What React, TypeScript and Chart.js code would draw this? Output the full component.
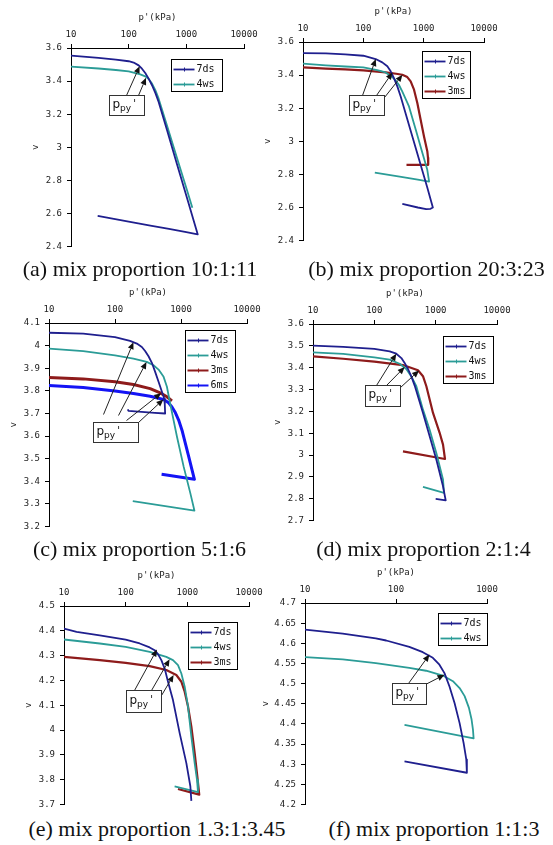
import React, { useEffect, useRef } from 'react';
import { Chart, registerables } from 'chart.js';

Chart.register(...registerables);

type Pt = [number, number]; // [p' (kPa), v]

// ---------- (a) mix proportion 10:1:11 ----------
const A_7DS: Pt[] = [
  [10, 3.554], [30, 3.54], [60, 3.53], [100, 3.52], [122, 3.512], [149, 3.495], [170, 3.475],
  [194, 3.449], [222, 3.415], [254, 3.375], [290, 3.329], [331, 3.274], [462, 3.104], [689, 2.898],
  [1028, 2.693], [1574, 2.474],
  [1000, 2.487], [500, 2.507], [238, 2.527], [100, 2.551], [29, 2.585],
];
const A_4WS: Pt[] = [
  [10, 3.487], [30, 3.476], [60, 3.467], [100, 3.459], [159, 3.441], [194, 3.429], [222, 3.413],
  [254, 3.385], [290, 3.345], [331, 3.294], [462, 3.132], [689, 2.935], [1028, 2.74], [1271, 2.635],
];

// ---------- (b) mix proportion 20:3:23 ----------
const B_7DS: Pt[] = [
  [10, 3.533], [24, 3.531], [50, 3.525], [100, 3.517], [160, 3.497], [206, 3.477], [250, 3.453],
  [284, 3.423], [322, 3.382], [366, 3.332], [416, 3.271], [571, 3.099], [837, 2.892], [1151, 2.72],
  [1420, 2.6], [1300, 2.592], [1100, 2.59], [800, 2.6], [443, 2.622],
];
const B_4WS: Pt[] = [
  [10, 3.469], [24, 3.459], [50, 3.452], [100, 3.447], [170, 3.43], [234, 3.416], [302, 3.388],
  [350, 3.365], [390, 3.34], [443, 3.3], [571, 3.211], [740, 3.07], [956, 2.928], [1148, 2.828],
  [1231, 2.757], [800, 2.768], [400, 2.786], [155, 2.811],
];
const B_3MS: Pt[] = [
  [10, 3.447], [24, 3.439], [50, 3.434], [100, 3.429], [234, 3.416], [350, 3.408], [443, 3.402],
  [535, 3.388], [609, 3.362], [692, 3.312], [785, 3.231], [891, 3.13], [1013, 3.029], [1151, 2.938],
  [1180, 2.9], [1190, 2.858], [519, 2.858],
];

// ---------- (c) mix proportion 5:1:6 ----------
const C_7DS: Pt[] = [
  [10, 4.057], [33, 4.053], [100, 4.038], [169, 4.021], [214, 4.009], [255, 3.994], [286, 3.976],
  [322, 3.953], [362, 3.924], [406, 3.884], [457, 3.84], [514, 3.796], [557, 3.766], [568, 3.74],
  [575, 3.7], [400, 3.703], [160, 3.712], [156, 3.718],
];
const C_4WS: Pt[] = [
  [10, 3.987], [33, 3.976], [100, 3.957], [190, 3.943], [303, 3.928], [383, 3.913], [457, 3.894],
  [545, 3.862], [612, 3.818], [689, 3.74], [869, 3.597], [1097, 3.465], [1387, 3.347],
  [1596, 3.271], [186, 3.313],
];
const C_3MS: Pt[] = [
  [10, 3.859], [33, 3.853], [100, 3.84], [190, 3.828], [341, 3.81], [484, 3.791], [612, 3.774], [729, 3.756],
];
const C_6MS: Pt[] = [
  [10, 3.824], [33, 3.815], [100, 3.799], [190, 3.788], [341, 3.776], [545, 3.762], [649, 3.747],
  [729, 3.729], [820, 3.704], [921, 3.671], [1035, 3.626], [1164, 3.568], [1309, 3.509],
  [1472, 3.45], [1596, 3.409], [508, 3.431],
];

// ---------- (d) mix proportion 2:1:4 ----------
const D_7DS: Pt[] = [
  [10, 3.501], [31, 3.495], [100, 3.486], [178, 3.475], [228, 3.464], [276, 3.444], [312, 3.422],
  [354, 3.394], [401, 3.36], [455, 3.318], [621, 3.193], [798, 3.086], [1025, 2.98], [1318, 2.857],
  [1456, 2.793], [1000, 2.799],
];
const D_4WS: Pt[] = [
  [10, 3.47], [31, 3.463], [100, 3.447], [178, 3.437], [259, 3.418], [332, 3.394], [401, 3.36],
  [484, 3.315], [621, 3.208], [798, 3.116], [1025, 3.01], [1318, 2.888], [1368, 2.827], [621, 2.854],
];
const D_3MS: Pt[] = [
  [10, 3.452], [31, 3.441], [100, 3.428], [293, 3.412], [515, 3.388], [621, 3.361], [705, 3.315],
  [798, 3.254], [905, 3.193], [1025, 3.147], [1161, 3.102], [1318, 3.048], [1419, 2.982], [293, 3.017],
];

// ---------- (e) mix proportion 1.3:1:3.45 ----------
const E_7DS: Pt[] = [
  [10, 4.409], [16, 4.396], [38, 4.382], [100, 4.365], [169, 4.349], [245, 4.333], [295, 4.322],
  [334, 4.306], [379, 4.282], [429, 4.248], [486, 4.195], [585, 4.121], [751, 3.988], [964, 3.867],
  [1119, 3.774], [1162, 3.715],
];
const E_4WS: Pt[] = [
  [10, 4.365], [38, 4.349], [100, 4.335], [245, 4.315], [456, 4.295], [585, 4.282], [706, 4.262],
  [800, 4.228], [906, 4.175], [1026, 4.095], [1162, 3.974], [1316, 3.867], [1435, 3.8],
  [1489, 3.75], [622, 3.773],
];
const E_3MS: Pt[] = [
  [10, 4.295], [38, 4.282], [100, 4.271], [245, 4.258], [456, 4.242], [663, 4.222], [800, 4.195],
  [906, 4.155], [1026, 4.095], [1162, 4.014], [1316, 3.907], [1452, 3.814], [1560, 3.74], [705, 3.763],
];

// ---------- (f) mix proportion 1:1:3 ----------
const F_7DS: Pt[] = [
  [10, 4.634], [26, 4.624], [60, 4.612], [78, 4.607], [140, 4.591], [197, 4.578], [254, 4.564],
  [300, 4.547], [341, 4.526], [387, 4.493], [440, 4.452], [500, 4.402], [553, 4.353], [592, 4.312],
  [601, 4.279], [124, 4.307],
];
const F_4WS: Pt[] = [
  [10, 4.566], [26, 4.56], [60, 4.551], [140, 4.539], [214, 4.532], [327, 4.52], [422, 4.506],
  [500, 4.489], [568, 4.469], [633, 4.44], [677, 4.411], [701, 4.386], [713, 4.364], [124, 4.398],
];

// ---------- axes ----------
const X_TICKS_WIDE = [10, 100, 1000, 10000];
const X_TICKS_NARROW = [10, 100, 1000];
const X_TITLE = "p'(kPa)";
const Y_TITLE = 'v';
const NOTE_TEXT = { main: 'p', sub: 'py', sup: "'" };

const NAVY = '#1f1f8e';
const TEAL = '#2b9c97';
const RED = '#8e1b1b';
const BLUE = '#1414f5';

const XH = 36;
const PADR = 18;
const PADB = 10;
const MONO = '"DejaVu Sans Mono", monospace';

interface SeriesDef { label: string; data: Pt[]; color: string; width: number }
interface ArrowDef { sx: number; sy: number; p: number; v: number }
interface PanelDef {
  caption: string;
  capX: number; capY: number;
  area: { l: number; t: number; r: number; b: number };
  yW: number;
  xMax: number; xTicks: number[];
  yMin: number; yMax: number; yStep: number;
  series: SeriesDef[];
  legend: { dx: number; dy: number; w: number };
  note: { dx: number; dy: number; w: number; h: number; arrows: ArrowDef[] };
}

const s = (label: string, data: Pt[], color: string, width = 1.8): SeriesDef => ({ label, data, color, width });

const PANELS: PanelDef[] = [
  {
    caption: '(a) mix proportion 10:1:11', capX: 140, capY: 258,
    area: { l: 71, t: 48, r: 244, b: 247 }, yW: 41,
    xMax: 10000, xTicks: X_TICKS_WIDE, yMin: 2.4, yMax: 3.6, yStep: 0.2,
    series: [s('7ds', A_7DS, NAVY), s('4ws', A_4WS, TEAL)],
    legend: { dx: 100, dy: 11, w: 51 },
    note: { dx: 38, dy: 47, w: 35, h: 20, arrows: [{ sx: 17, sy: 0, p: 155, v: 3.49 }, { sx: 29, sy: 0, p: 200, v: 3.42 }] },
  },
  {
    caption: '(b) mix proportion 20:3:23', capX: 426.5, capY: 258,
    area: { l: 303, t: 42, r: 484, b: 241 }, yW: 41,
    xMax: 10000, xTicks: X_TICKS_WIDE, yMin: 2.4, yMax: 3.6, yStep: 0.2,
    series: [s('7ds', B_7DS, NAVY), s('4ws', B_4WS, TEAL), s('3ms', B_3MS, RED, 2.2)],
    legend: { dx: 119, dy: 9, w: 48 },
    note: {
      dx: 46, dy: 53, w: 35, h: 20,
      arrows: [{ sx: 13, sy: 0, p: 161, v: 3.497 }, { sx: 27, sy: 0, p: 304, v: 3.416 }, { sx: 35, sy: 2, p: 445, v: 3.402 }],
    },
  },
  {
    caption: '(c) mix proportion 5:1:6', capX: 139.5, capY: 538,
    area: { l: 49, t: 323, r: 247, b: 527 }, yW: 41,
    xMax: 10000, xTicks: X_TICKS_WIDE, yMin: 3.2, yMax: 4.1, yStep: 0.1,
    series: [s('7ds', C_7DS, NAVY), s('4ws', C_4WS, TEAL), s('3ms', C_3MS, RED, 3), s('6ms', C_6MS, BLUE, 3)],
    legend: { dx: 136, dy: 7, w: 50 },
    note: {
      dx: 44, dy: 99, w: 45, h: 20,
      arrows: [
        { sx: 10, sy: -8, p: 190, v: 4.015 }, { sx: 25, sy: -7, p: 300, v: 3.928 },
        { sx: 33, sy: -2, p: 500, v: 3.79 }, { sx: 45, sy: 0, p: 540, v: 3.762 },
      ],
    },
  },
  {
    caption: '(d) mix proportion 2:1:4', capX: 423.5, capY: 538,
    area: { l: 313, t: 324, r: 497, b: 521 }, yW: 41,
    xMax: 10000, xTicks: X_TICKS_WIDE, yMin: 2.7, yMax: 3.6, yStep: 0.1,
    series: [s('7ds', D_7DS, NAVY), s('4ws', D_4WS, TEAL), s('3ms', D_3MS, RED, 2.2)],
    legend: { dx: 130, dy: 12, w: 50 },
    note: {
      dx: 52, dy: 61, w: 35, h: 21,
      arrows: [{ sx: 11, sy: 0, p: 228, v: 3.464 }, { sx: 21, sy: 0, p: 312, v: 3.403 }, { sx: 35, sy: 2, p: 536, v: 3.387 }],
    },
  },
  {
    caption: '(e) mix proportion 1.3:1:3.45', capX: 157, capY: 818,
    area: { l: 64, t: 606, r: 249, b: 805 }, yW: 41,
    xMax: 10000, xTicks: X_TICKS_WIDE, yMin: 3.7, yMax: 4.5, yStep: 0.1,
    series: [s('7ds', E_7DS, NAVY), s('4ws', E_4WS, TEAL), s('3ms', E_3MS, RED, 2.2)],
    legend: { dx: 124, dy: 16, w: 49 },
    note: {
      dx: 62, dy: 84, w: 35, h: 22,
      arrows: [{ sx: 8, sy: 0, p: 322, v: 4.325 }, { sx: 25, sy: 0, p: 516, v: 4.286 }, { sx: 35, sy: 5, p: 600, v: 4.222 }],
    },
  },
  {
    caption: '(f) mix proportion 1:1:3', capX: 434, capY: 818,
    area: { l: 305, t: 603, r: 487, b: 805 }, yW: 45,
    xMax: 1000, xTicks: X_TICKS_NARROW, yMin: 4.2, yMax: 4.7, yStep: 0.05,
    series: [s('7ds', F_7DS, NAVY), s('4ws', F_4WS, TEAL)],
    legend: { dx: 133, dy: 10, w: 49 },
    note: { dx: 87, dy: 80, w: 34, h: 21, arrows: [{ sx: 16, sy: 0, p: 233, v: 4.572 }, { sx: 33, sy: 1, p: 341, v: 4.522 }] },
  },
];

function drawArrow(ctx: CanvasRenderingContext2D, x0: number, y0: number, x1: number, y1: number) {
  const ang = Math.atan2(y1 - y0, x1 - x0);
  const L = 7;
  const W = 3;
  const bx = x1 - L * Math.cos(ang);
  const by = y1 - L * Math.sin(ang);
  ctx.beginPath();
  ctx.moveTo(x0, y0);
  ctx.lineTo(bx, by);
  ctx.stroke();
  ctx.beginPath();
  ctx.moveTo(x1, y1);
  ctx.lineTo(bx + W * Math.sin(ang), by - W * Math.cos(ang));
  ctx.lineTo(bx - W * Math.sin(ang), by + W * Math.cos(ang));
  ctx.closePath();
  ctx.fill();
}

function Panel({ def }: { def: PanelDef }) {
  const ref = useRef<HTMLCanvasElement>(null);
  const { area, yW } = def;
  const W = area.r - area.l + yW + PADR;
  const H = area.b - area.t + XH + PADB;
  const left = area.l - yW;
  const top = area.t - XH;

  useEffect(() => {
    const canvas = ref.current;
    if (!canvas) return;
    const overlay = {
      id: 'overlay' + def.caption,
      afterDatasetsDraw(chart: any) {
        const ctx: CanvasRenderingContext2D = chart.ctx;
        const ca = chart.chartArea;
        const xs = chart.scales.x;
        const ys = chart.scales.y;
        ctx.save();
        // annotation box with arrows
        const n = def.note;
        const nx = Math.round(ca.left + n.dx) + 0.5;
        const ny = Math.round(ca.top + n.dy) + 0.5;
        ctx.strokeStyle = '#222';
        ctx.fillStyle = '#111';
        ctx.lineWidth = 1;
        n.arrows.forEach((a) => {
          drawArrow(ctx, nx + a.sx, ny + a.sy, xs.getPixelForValue(a.p), ys.getPixelForValue(a.v));
        });
        ctx.fillStyle = '#fff';
        ctx.fillRect(nx, ny, n.w, n.h);
        ctx.strokeStyle = '#333';
        ctx.strokeRect(nx, ny, n.w, n.h);
        ctx.fillStyle = '#111';
        ctx.textBaseline = 'alphabetic';
        ctx.textAlign = 'left';
        const base = ny + n.h / 2 + 2;
        ctx.font = '12px "DejaVu Sans"';
        ctx.fillText(NOTE_TEXT.main, nx + 3, base);
        const pw = ctx.measureText(NOTE_TEXT.main).width;
        ctx.font = '9px "DejaVu Sans"';
        ctx.fillText(NOTE_TEXT.sub, nx + 3 + pw, base + 3);
        const sw = ctx.measureText(NOTE_TEXT.sub).width;
        ctx.font = '10px "DejaVu Sans"';
        ctx.fillText(NOTE_TEXT.sup, nx + 5 + pw + sw, base - 1);

        // legend box
        const lg = def.legend;
        const cnt = def.series.length;
        const lx = Math.round(ca.left + lg.dx) + 0.5;
        const ly = Math.round(ca.top + lg.dy) + 0.5;
        const lh = 9 + 15 * (cnt - 1) + 8;
        ctx.fillStyle = '#fff';
        ctx.fillRect(lx, ly, lg.w, lh);
        ctx.strokeStyle = '#000';
        ctx.lineWidth = 1;
        ctx.strokeRect(lx, ly, lg.w, lh);
        ctx.font = '10px ' + MONO;
        ctx.textBaseline = 'middle';
        def.series.forEach((sr, i) => {
          const yy = Math.round(ly + 9 + 15 * i) + 0.5;
          ctx.strokeStyle = sr.color;
          ctx.lineWidth = Math.min(sr.width, 2);
          ctx.beginPath();
          ctx.moveTo(lx + 2, yy);
          ctx.lineTo(lx + 23, yy);
          ctx.stroke();
          ctx.lineWidth = 1;
          ctx.beginPath();
          ctx.moveTo(lx + 13, yy - 2);
          ctx.lineTo(lx + 13, yy + 2);
          ctx.stroke();
          ctx.fillStyle = '#111';
          ctx.fillText(sr.label, lx + 25, yy);
        });
        ctx.restore();
      },
    };

    const chart = new Chart(canvas, {
      type: 'line',
      data: {
        datasets: def.series.map((sr) => ({
          label: sr.label,
          data: sr.data.map(([p, v]) => ({ x: p, y: v })),
          borderColor: sr.color,
          backgroundColor: sr.color,
          borderWidth: sr.width,
          borderJoinStyle: 'round',
          pointRadius: 0,
          tension: 0,
          fill: false,
        })),
      },
      options: {
        animation: false,
        responsive: false,
        maintainAspectRatio: false,
        events: [],
        layout: { padding: { left: 0, top: 0, right: PADR, bottom: PADB } },
        plugins: { legend: { display: false }, tooltip: { enabled: false }, title: { display: false } },
        scales: {
          x: {
            type: 'logarithmic',
            position: 'top',
            min: 10,
            max: def.xMax,
            afterBuildTicks: (sc: any) => {
              sc.ticks = def.xTicks.map((value) => ({ value }));
            },
            afterFit: (sc: any) => {
              sc.height = XH;
            },
            ticks: {
              autoSkip: false,
              maxRotation: 0,
              padding: 4,
              color: '#222',
              font: { family: MONO, size: 9 },
              callback: (v: any) => String(v),
            },
            grid: { display: true, drawOnChartArea: false, drawTicks: true, tickLength: 4, color: '#000' },
            border: { display: true, color: '#000', width: 1 },
            title: { display: true, text: X_TITLE, color: '#222', font: { family: MONO, size: 9 }, padding: { top: 0, bottom: 0 } },
          },
          y: {
            type: 'linear',
            position: 'left',
            min: def.yMin,
            max: def.yMax,
            afterFit: (sc: any) => {
              sc.width = yW;
            },
            ticks: {
              stepSize: def.yStep,
              padding: 5,
              color: '#222',
              font: { family: MONO, size: 9 },
              callback: (v: any) => String(Number(Number(v).toFixed(2))),
            },
            grid: { display: true, drawOnChartArea: false, drawTicks: true, tickLength: 4, color: '#000' },
            border: { display: true, color: '#000', width: 1 },
            title: { display: true, text: Y_TITLE, color: '#222', font: { family: MONO, size: 9 }, padding: { top: 0, bottom: 0 } },
          },
        },
      } as any,
      plugins: [overlay],
    });
    return () => chart.destroy();
  }, [def]);

  return (
    <canvas
      ref={ref}
      width={W}
      height={H}
      style={{ position: 'absolute', left, top, width: W, height: H }}
    />
  );
}

export default function App() {
  return (
    <div style={{ position: 'absolute', left: 0, top: 0, width: 553, height: 845, background: '#fff', overflow: 'hidden' }}>
      {PANELS.map((p) => (
        <Panel key={p.caption} def={p} />
      ))}
      {PANELS.map((p) => (
        <div
          key={'cap' + p.caption}
          style={{
            position: 'absolute',
            left: p.capX - 150,
            top: p.capY,
            width: 300,
            textAlign: 'center',
            whiteSpace: 'nowrap',
            fontFamily: '"Liberation Serif", "Times New Roman", serif',
            fontSize: 22,
            lineHeight: '22px',
            color: '#111',
          }}
        >
          {p.caption}
        </div>
      ))}
    </div>
  );
}
